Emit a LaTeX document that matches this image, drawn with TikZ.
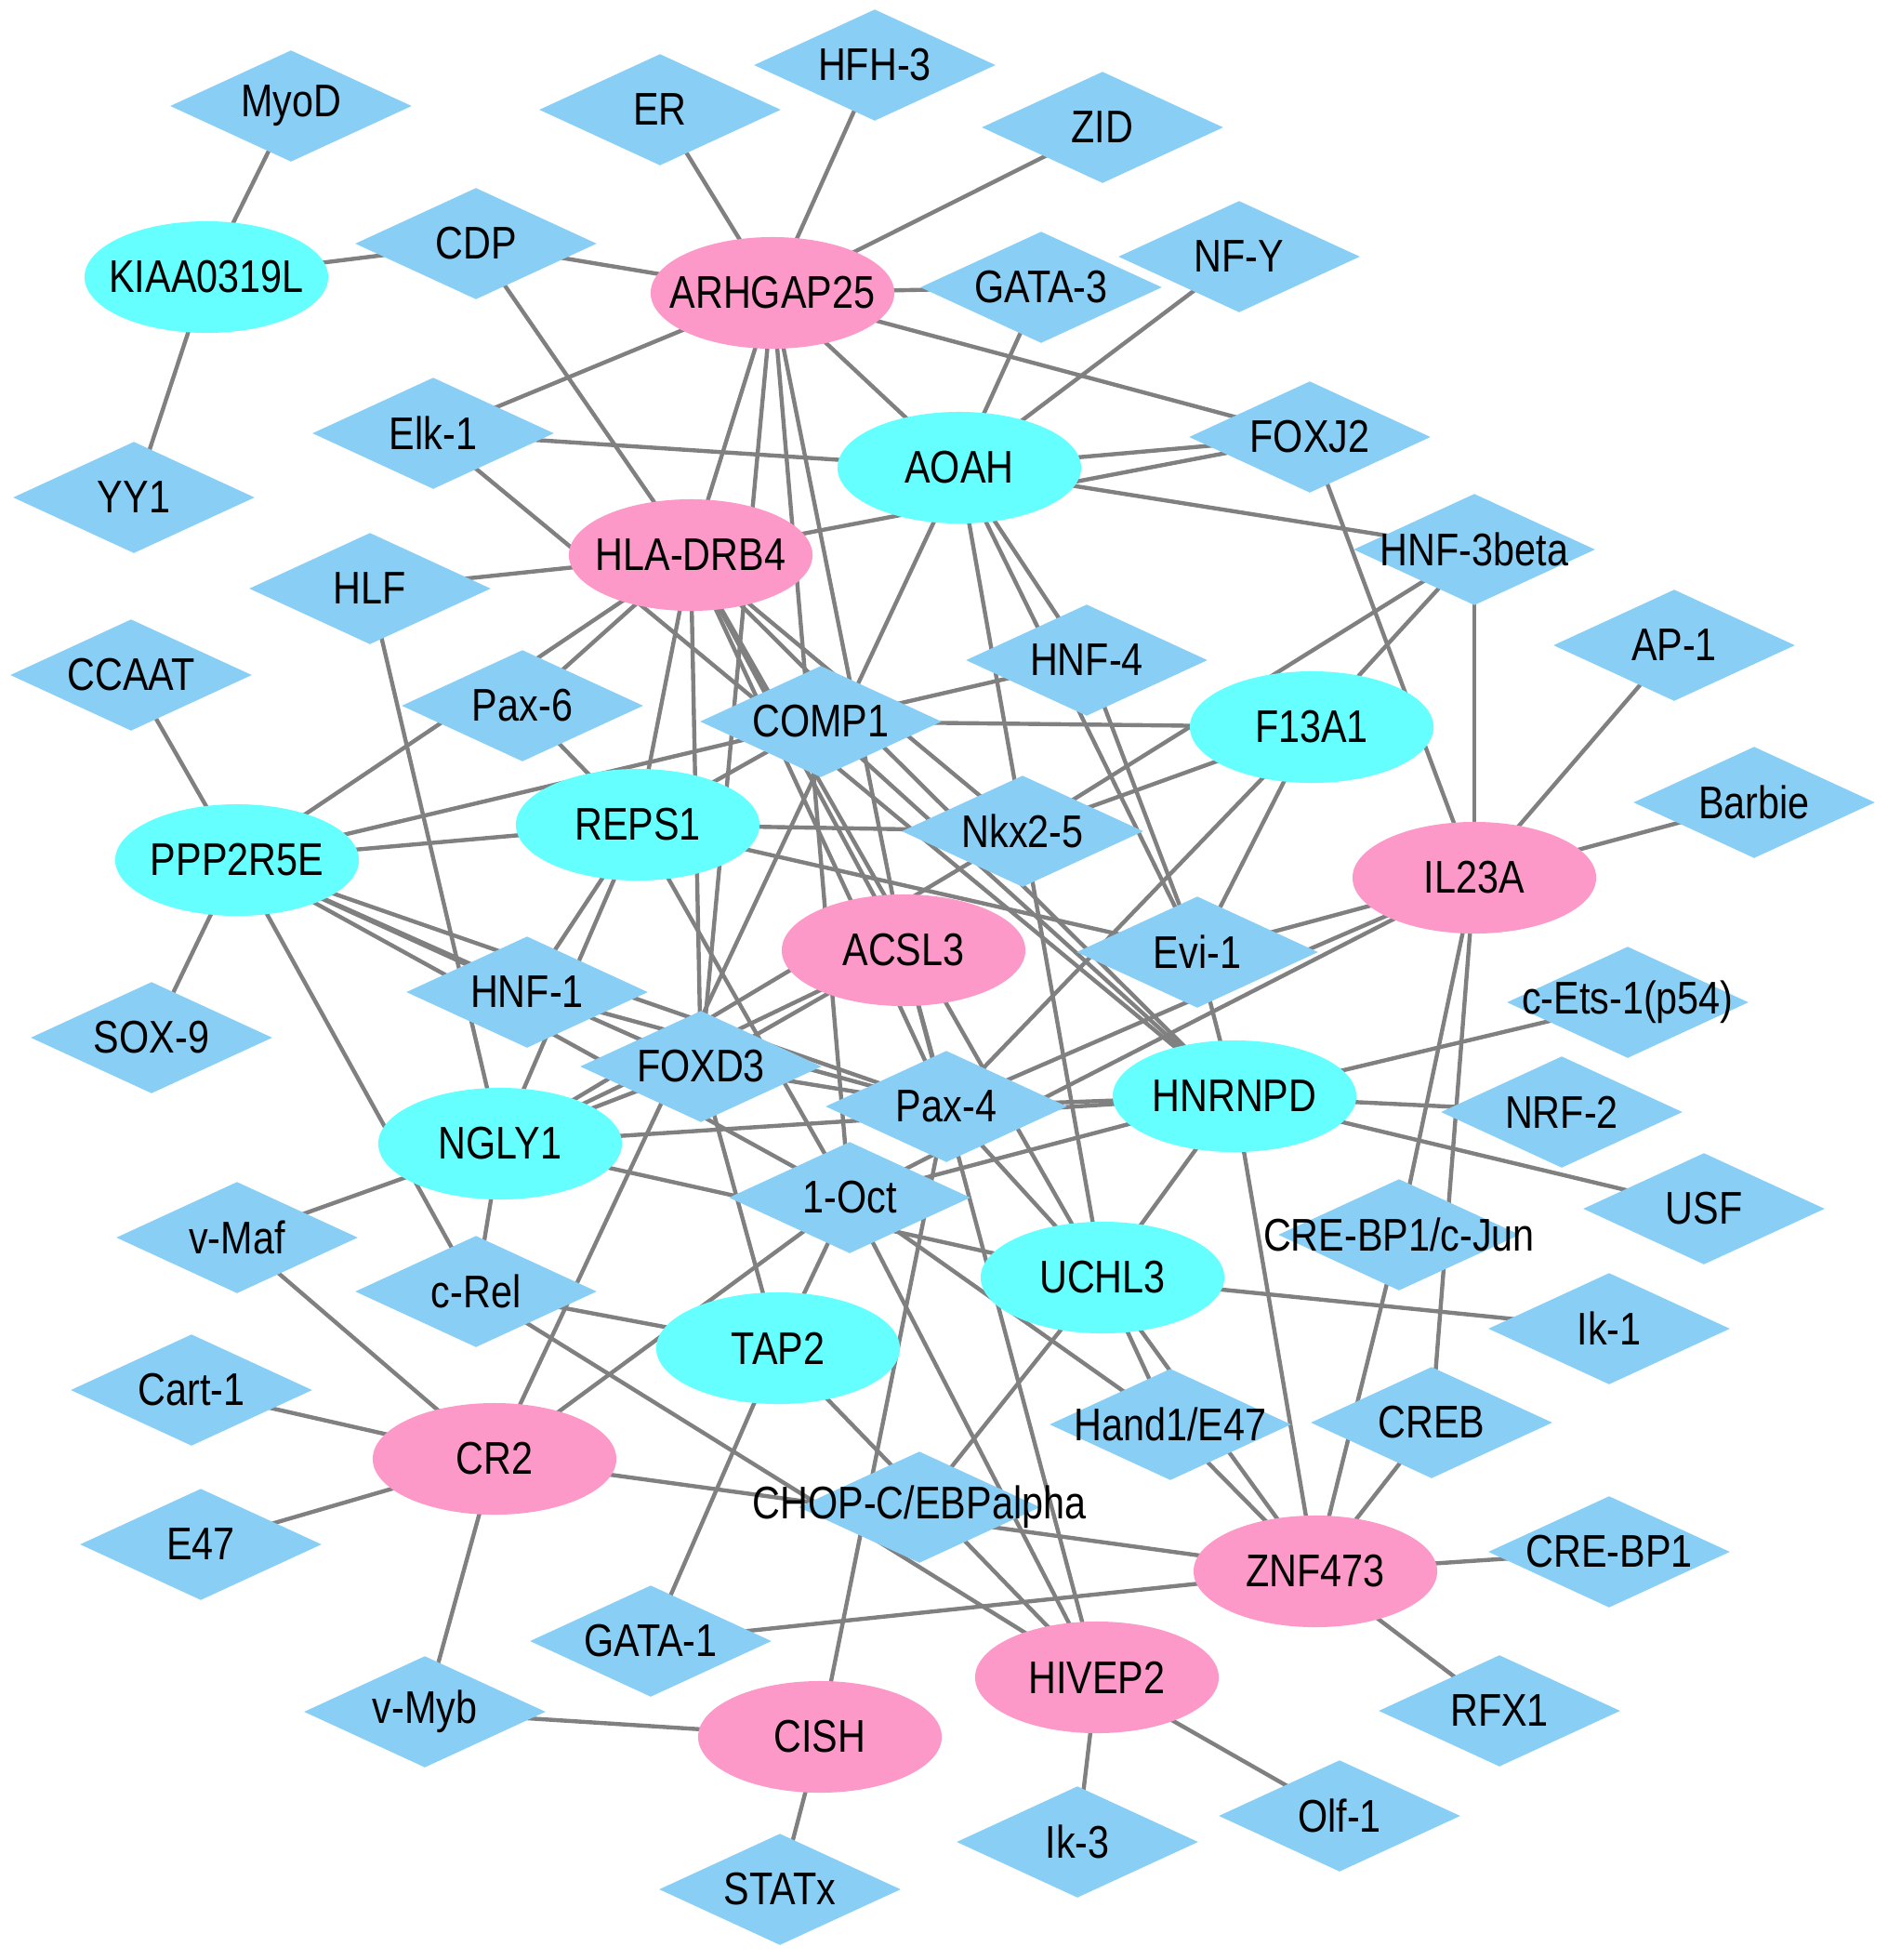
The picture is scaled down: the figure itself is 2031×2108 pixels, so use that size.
\documentclass[tikz,border=0pt]{standalone}
\usepackage{fontspec}
\setmainfont{Liberation Sans}[FakeStretch=0.84]
\usetikzlibrary{shapes.geometric, backgrounds}
\definecolor{tfblue}{RGB}{137,207,245}
\definecolor{upcyan}{RGB}{102,255,255}
\definecolor{downpink}{RGB}{252,153,201}
\definecolor{lnkgray}{RGB}{128,128,128}
\newcommand{\lbl}[1]{\makebox[0pt]{#1}}

\begin{document}
\begin{tikzpicture}[x=0.01cm, y=-0.01cm,
  every node/.style={font=\fontsize{14}{16}\selectfont, inner sep=0pt},
  tf/.style={diamond, aspect=2.15, fill=tfblue, minimum width=2.6cm, minimum height=1.2cm},
  gup/.style={ellipse, fill=upcyan, minimum width=2.62cm, minimum height=1.2cm},
  gdown/.style={ellipse, fill=downpink, minimum width=2.62cm, minimum height=1.2cm},
  lnk/.style={draw=lnkgray, line width=1.25pt}]
\useasboundingbox (0,0) rectangle (2031,2108);

\node[tf] (myod) at (313,114) {\lbl{MyoD}};
\node[tf] (er) at (710,118) {\lbl{ER}};
\node[tf] (hfh3) at (941,70) {\lbl{HFH-3}};
\node[tf] (zid) at (1186,137) {\lbl{ZID}};
\node[gup] (kiaa) at (222,298) {\lbl{KIAA0319L}};
\node[tf] (cdp) at (512,262) {\lbl{CDP}};
\node[gdown] (arh) at (831,315) {\lbl{ARHGAP25}};
\node[tf] (gata3) at (1120,309) {\lbl{GATA-3}};
\node[tf] (nfy) at (1333,276) {\lbl{NF-Y}};
\node[tf] (elk1) at (466,466) {\lbl{Elk-1}};
\node[tf] (yy1) at (144,535) {\lbl{YY1}};
\node[gup] (aoah) at (1032,503) {\lbl{AOAH}};
\node[tf] (foxj2) at (1409,470) {\lbl{FOXJ2}};
\node[gdown] (hla) at (743,597) {\lbl{HLA-DRB4}};
\node[tf] (hnf3b) at (1586,591) {\lbl{HNF-3beta}};
\node[tf] (hlf) at (398,633) {\lbl{HLF}};
\node[tf] (ccaat) at (141,726) {\lbl{CCAAT}};
\node[tf] (hnf4) at (1169,710) {\lbl{HNF-4}};
\node[tf] (ap1) at (1801,694) {\lbl{AP-1}};
\node[tf] (pax6) at (562,759) {\lbl{Pax-6}};
\node[tf] (comp1) at (883,776) {\lbl{COMP1}};
\node[gup] (f13a1) at (1411,782) {\lbl{F13A1}};
\node[tf] (barbie) at (1887,863) {\lbl{Barbie}};
\node[gup] (ppp) at (255,925) {\lbl{PPP2R5E}};
\node[gup] (reps1) at (686,887) {\lbl{REPS1}};
\node[tf] (nkx) at (1100,894) {\lbl{Nkx2-5}};
\node[gdown] (il23a) at (1586,944) {\lbl{IL23A}};
\node[gdown] (acsl3) at (972,1022) {\lbl{ACSL3}};
\node[tf] (evi1) at (1288,1024) {\lbl{Evi-1}};
\node[tf] (hnf1) at (567,1067) {\lbl{HNF-1}};
\node[tf] (cets) at (1751,1078) {\lbl{c-Ets-1(p54)}};
\node[tf] (sox9) at (163,1116) {\lbl{SOX-9}};
\node[tf] (foxd3) at (754,1147) {\lbl{FOXD3}};
\node[gup] (hnrnpd) at (1328,1179) {\lbl{HNRNPD}};
\node[tf] (pax4) at (1018,1190) {\lbl{Pax-4}};
\node[tf] (nrf2) at (1680,1196) {\lbl{NRF-2}};
\node[gup] (ngly1) at (538,1230) {\lbl{NGLY1}};
\node[tf] (oct1) at (914,1288) {\lbl{1-Oct}};
\node[tf] (usf) at (1833,1300) {\lbl{USF}};
\node[tf] (crebpjun) at (1505,1328) {\lbl{CRE-BP1/c-Jun}};
\node[tf] (vmaf) at (255,1331) {\lbl{v-Maf}};
\node[tf] (crel) at (512,1389) {\lbl{c-Rel}};
\node[gup] (uchl3) at (1186,1374) {\lbl{UCHL3}};
\node[gup] (tap2) at (837,1450) {\lbl{TAP2}};
\node[tf] (ik1) at (1731,1429) {\lbl{Ik-1}};
\node[tf] (cart1) at (206,1495) {\lbl{Cart-1}};
\node[tf] (hand1) at (1259,1532) {\lbl{Hand1/E47}};
\node[tf] (creb) at (1540,1530) {\lbl{CREB}};
\node[gdown] (cr2) at (532,1569) {\lbl{CR2}};
\node[tf] (chop) at (989,1621) {\lbl{CHOP-C/EBPalpha}};
\node[tf] (e47) at (216,1661) {\lbl{E47}};
\node[gdown] (znf) at (1415,1690) {\lbl{ZNF473}};
\node[tf] (crebp1) at (1731,1669) {\lbl{CRE-BP1}};
\node[tf] (gata1) at (700,1765) {\lbl{GATA-1}};
\node[gdown] (hivep2) at (1180,1804) {\lbl{HIVEP2}};
\node[tf] (vmyb) at (457,1841) {\lbl{v-Myb}};
\node[tf] (rfx1) at (1613,1840) {\lbl{RFX1}};
\node[gdown] (cish) at (882,1868) {\lbl{CISH}};
\node[tf] (ik3) at (1159,1981) {\lbl{Ik-3}};
\node[tf] (olf1) at (1441,1953) {\lbl{Olf-1}};
\node[tf] (statx) at (839,2032) {\lbl{STATx}};

\begin{pgfonlayer}{background}
\foreach \a/\b in {myod/kiaa, kiaa/cdp, kiaa/yy1, cdp/arh, cdp/hla,
  er/arh, hfh3/arh, zid/arh, arh/gata3, arh/foxj2, arh/elk1, arh/aoah,
  arh/hla, arh/foxd3, arh/oct1, arh/acsl3,
  gata3/aoah, nfy/aoah, elk1/aoah, elk1/hnrnpd,
  aoah/foxj2, hla/foxj2, aoah/hnf3b, aoah/hnf4, aoah/evi1, aoah/uchl3,
  foxj2/il23a, hnf3b/il23a, hnf3b/f13a1, hnf3b/nkx, ap1/il23a, barbie/il23a,
  hlf/hla, hlf/ngly1, ccaat/ppp, sox9/ppp,
  ppp/hla, hla/pax6, pax6/reps1, hla/reps1, hla/foxd3,
  ppp/comp1, ppp/reps1, ppp/hnf1, ppp/foxd3, ppp/pax4, ppp/oct1, ppp/crel,
  reps1/hnf1, reps1/ngly1, reps1/nkx, reps1/comp1, reps1/evi1, reps1/oct1,
  hla/nkx, hla/hnrnpd, hla/uchl3, hla/acsl3, hla/pax4,
  comp1/f13a1, comp1/hnf4, comp1/hnrnpd,
  f13a1/nkx, f13a1/pax4, f13a1/evi1, hnf4/evi1, nkx/ngly1,
  evi1/il23a, evi1/hnrnpd, pax4/il23a, oct1/il23a,
  acsl3/foxd3, acsl3/ngly1, acsl3/pax4, acsl3/hivep2, cr2/aoah,
  hnf1/pax4, ngly1/foxd3, ngly1/hnrnpd, ngly1/uchl3, ngly1/crel, vmaf/ngly1,
  foxd3/tap2, foxd3/pax4,
  oct1/tap2, oct1/hivep2, oct1/hand1, oct1/hnrnpd, cr2/oct1,
  pax4/hnrnpd, pax4/uchl3, cish/pax4,
  hnrnpd/cets, hnrnpd/nrf2, hnrnpd/usf, hnrnpd/znf, hnrnpd/uchl3,
  il23a/crebpjun, il23a/creb, crebpjun/znf, creb/znf,
  uchl3/ik1, uchl3/hand1, uchl3/znf, uchl3/chop, hand1/znf,
  vmaf/cr2, cart1/cr2, e47/cr2, cr2/vmyb, vmyb/cish, cish/statx, cr2/znf,
  crel/tap2, crel/hivep2, tap2/gata1, tap2/hivep2, gata1/znf,
  znf/crebp1, znf/rfx1, hivep2/ik3, hivep2/olf1}
  \draw[lnk] (\a.center) -- (\b.center);
\end{pgfonlayer}
\end{tikzpicture}
\end{document}
